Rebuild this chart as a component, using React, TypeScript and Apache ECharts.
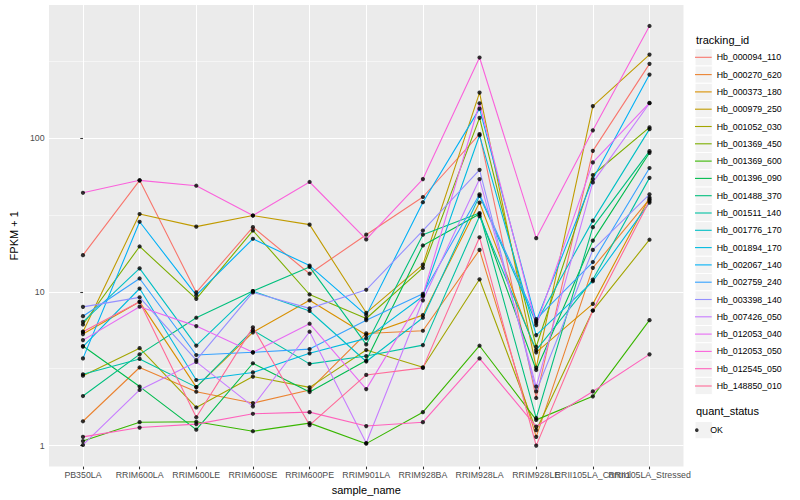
import { useEffect, useRef } from "react";
import * as echarts from "echarts";

const categories = [
  "PB350LA", "RRIM600LA", "RRIM600LE", "RRIM600SE", "RRIM600PE", "RRIM901LA",
  "RRIM928BA", "RRIM928LA", "RRIM928LE", "RRII105LA_Control", "RRII105LA_Stressed",
];

const trackingIds = [
  "Hb_000094_110", "Hb_000270_620", "Hb_000373_180", "Hb_000979_250", "Hb_001052_030",
  "Hb_001369_450", "Hb_001369_600", "Hb_001396_090", "Hb_001488_370", "Hb_001511_140",
  "Hb_001776_170", "Hb_001894_170", "Hb_002067_140", "Hb_002759_240", "Hb_003398_140",
  "Hb_007426_050", "Hb_012053_040", "Hb_012053_050", "Hb_012545_050", "Hb_148850_010",
];

// FPKM + 1 per sample, in category order
const hb000094_110 = [17.3, 53, 9.9, 26.3, 13.1, 23.5, 41.3, 106, 2.04, 82.4, 303];
const hb000270_620 = [1.44, 3.22, 2.24, 1.89, 2.3, 5.36, 5.58, 18.7, 1.14, 14.3, 40];
const hb000373_180 = [5.31, 8.6, 2.4, 5.45, 8.8, 5.23, 7.05, 38, 4.04, 8.34, 41];
const hb000979_250 = [5.5, 32, 26.5, 31.3, 27.3, 7.3, 15, 197, 3.21, 161, 348];
const hb001052_030 = [2.85, 4.3, 1.77, 2.81, 2.39, 4.18, 3.23, 12.05, 1.26, 7.55, 21.8];
const hb001369_450 = [6.13, 19.7, 9.0, 25, 9.6, 6.7, 14.3, 135, 4.39, 57.4, 117];
const hb001369_600 = [1.07, 1.42, 1.43, 1.24, 1.4, 1.03, 1.65, 4.46, 1.47, 2.09, 6.54];
const hb001396_090 = [4.44, 2.42, 1.27, 3.43, 2.23, 3.57, 20, 32, 3.1, 21.5, 80];
const hb001488_370 = [2.1, 3.92, 6.78, 10.1, 14.5, 4.55, 23.5, 32.5, 1.51, 26.3, 82];
const hb001511_140 = [2.91, 3.66, 2.4, 5.63, 3.4, 3.82, 4.5, 31, 4.18, 12, 55];
const hb001776_170 = [6.38, 14.2, 4.47, 10.1, 7.5, 3.52, 6.78, 42, 6.29, 29, 114];
const hb001894_170 = [4.4, 10.5, 2.67, 2.99, 3.98, 4.98, 9.35, 104, 5.23, 11.7, 38];
const hb002067_140 = [3.69, 28.5, 9.5, 22.1, 14.8, 7.05, 38.2, 155, 6.44, 54, 258];
const hb002759_240 = [6.94, 12.2, 3.88, 4.04, 4.24, 6.54, 9.7, 43, 6.64, 15.6, 63.7];
const hb003398_140 = [7.98, 9.2, 3.6, 9.9, 7.8, 10.3, 25, 62, 2.25, 18.7, 43];
const hb007426_050 = [1.01, 2.3, 3.5, 1.8, 5.5, 1.04, 8.8, 54, 2.42, 51.4, 168];
const hb012053_040 = [4.85, 8.0, 5.98, 4.04, 6.2, 2.33, 9.5, 168, 6.07, 69.3, 169];
const hb012053_050 = [44, 53, 48.9, 31.3, 51.7, 21.9, 54, 333, 22.3, 112, 534];
const hb012545_050 = [1.14, 1.31, 1.38, 1.61, 1.65, 1.34, 1.42, 3.69, 1.33, 2.25, 3.92];
const hb148850_010 = [5.5, 8.6, 1.53, 5.87, 1.36, 2.88, 3.2, 22.6, 1.0, 7.55, 39];

const seriesValues = [
  hb000094_110, hb000270_620, hb000373_180, hb000979_250, hb001052_030,
  hb001369_450, hb001369_600, hb001396_090, hb001488_370, hb001511_140,
  hb001776_170, hb001894_170, hb002067_140, hb002759_240, hb003398_140,
  hb007426_050, hb012053_040, hb012053_050, hb012545_050, hb148850_010,
];

const quantStatus = ["OK"];
const yMajorTicks = [1, 10, 100];
const yMinorTicks = [3.1623, 31.623, 316.23];

const FONT = "'Liberation Sans', Arial, Helvetica, sans-serif";

// ggplot2 default hue palette (HCL, c = 100, l = 65)
function hcl(h: number, c = 100, l = 65): string {
  const hr = (h * Math.PI) / 180;
  const U = c * Math.cos(hr);
  const V = c * Math.sin(hr);
  const Xn = 95.047, Yn = 100, Zn = 108.883;
  const den = Xn + 15 * Yn + 3 * Zn;
  const un = (4 * Xn) / den;
  const vn = (9 * Yn) / den;
  const Y = Yn * Math.pow((l + 16) / 116, 3);
  const u = U / (13 * l) + un;
  const v = V / (13 * l) + vn;
  const X = (9 * Y * u) / (4 * v);
  const Z = (Y * (12 - 3 * u - 20 * v)) / (4 * v);
  const x = X / 100, y = Y / 100, z = Z / 100;
  const lin = [
    3.2404542 * x - 1.5371385 * y - 0.4985314 * z,
    -0.969266 * x + 1.8760108 * y + 0.041556 * z,
    0.0556434 * x - 0.2040259 * y + 1.0572252 * z,
  ];
  const hex = lin
    .map((t) => {
      const g = t > 0.0031308 ? 1.055 * Math.pow(t, 1 / 2.4) - 0.055 : 12.92 * t;
      const n = Math.round(Math.min(1, Math.max(0, g)) * 255);
      return n.toString(16).padStart(2, "0");
    })
    .join("");
  return "#" + hex;
}

function huePalette(n: number): string[] {
  const out: string[] = [];
  for (let i = 0; i < n; i++) out.push(hcl(15 + (360 / n) * i));
  return out;
}

// layout
const PANEL_LEFT = 39.5;
const PANEL_TOP = 5;
const PANEL_W = 644;
const PANEL_H = 464;
const LEG_LEFT = 695;
const LEG_TOP = 48.65;
const KEY = 17.3;
const LEG2_TOP = 421.5;

export default function App() {
  const ref = useRef<HTMLDivElement>(null);

  useEffect(() => {
    if (!ref.current) return;
    const chart = echarts.init(ref.current, undefined, { renderer: "svg" });
    const colors = huePalette(trackingIds.length);

    const all = seriesValues.flat();
    const lmin = Math.log10(Math.min(...all));
    const lmax = Math.log10(Math.max(...all));
    const pad = (lmax - lmin) * 0.05;
    const yMin = Math.pow(10, lmin - pad);
    const yMax = Math.pow(10, lmax + pad);

    const idx = categories.map((_, i) => i);
    const evenIdx = idx.filter((i) => i % 2 === 0);
    const oddIdx = idx.filter((i) => i % 2 === 1);

    const lineSeries = trackingIds.map((name, s) => ({
      type: "line",
      name,
      color: colors[s],
      data: seriesValues[s].map((v, i) => [i, v]),
      showSymbol: false,
      symbol: "none",
      lineStyle: { color: colors[s], width: 1.1 },
      itemStyle: { color: colors[s] },
      emphasis: { disabled: true },
      silent: true,
      z: 2,
    }));

    const points: number[][] = [];
    seriesValues.forEach((vals) => vals.forEach((v, i) => points.push([i, v])));

    const keyRects = trackingIds.map((_, i) => ({
      type: "rect",
      shape: { x: LEG_LEFT, y: LEG_TOP + KEY * i, width: KEY, height: KEY },
      style: { fill: "#F2F2F2", stroke: "#FFFFFF", lineWidth: 1 },
      silent: true,
    }));
    keyRects.push({
      type: "rect",
      shape: { x: LEG_LEFT, y: LEG2_TOP, width: KEY, height: KEY },
      style: { fill: "#F2F2F2", stroke: "#FFFFFF", lineWidth: 1 },
      silent: true,
    });

    const axisLabelStyle = { color: "#4D4D4D", fontSize: 8.8, fontFamily: FONT };
    const catFormatter = (v: number) => categories[Math.round(v)] ?? "";

    chart.setOption({
      animation: false,
      backgroundColor: "#FFFFFF",
      textStyle: { fontFamily: FONT },
      title: [
        {
          text: "tracking_id",
          left: 696,
          top: 34,
          padding: 0,
          textStyle: { fontSize: 11, fontWeight: "normal", color: "#000", fontFamily: FONT },
        },
        {
          text: "quant_status",
          left: 696,
          top: 405.5,
          padding: 0,
          textStyle: { fontSize: 11, fontWeight: "normal", color: "#000", fontFamily: FONT },
        },
      ],
      graphic: keyRects,
      grid: {
        left: PANEL_LEFT,
        top: PANEL_TOP,
        width: PANEL_W,
        height: PANEL_H,
        show: true,
        backgroundColor: "#EBEBEB",
        borderWidth: 0,
      },
      xAxis: [
        {
          type: "value",
          position: "bottom",
          min: -0.6,
          max: categories.length - 0.4,
          name: "sample_name",
          nameLocation: "middle",
          nameGap: 14.5,
          nameTextStyle: { fontSize: 11, color: "#000", fontFamily: FONT, verticalAlign: "top" },
          axisLine: { show: false },
          axisTick: {
            show: true,
            customValues: idx,
            length: 2.7,
            lineStyle: { color: "#333333", width: 1.07 },
          },
          axisLabel: {
            ...axisLabelStyle,
            customValues: evenIdx,
            margin: 3.5,
            showMinLabel: true,
            showMaxLabel: true,
            hideOverlap: false,
            formatter: catFormatter,
          },
          splitLine: { show: true, lineStyle: { color: "#FFFFFF", width: 1.07 } },
        },
        {
          type: "value",
          position: "bottom",
          offset: 0,
          min: -0.6,
          max: categories.length - 0.4,
          axisLine: { show: false },
          axisTick: { show: false, customValues: oddIdx },
          axisLabel: {
            ...axisLabelStyle,
            customValues: oddIdx,
            margin: 3.5,
            showMinLabel: true,
            showMaxLabel: true,
            hideOverlap: false,
            formatter: catFormatter,
          },
          splitLine: { show: false },
        },
      ],
      yAxis: [
        {
          type: "log",
          logBase: 10,
          min: yMin,
          max: yMax,
          name: "FPKM + 1",
          nameLocation: "middle",
          nameGap: 21,
          nameTextStyle: { fontSize: 11, color: "#000", fontFamily: FONT },
          axisLine: { show: false },
          axisTick: {
            show: true,
            customValues: yMajorTicks,
            length: 2.7,
            lineStyle: { color: "#333333", width: 1.07 },
          },
          axisLabel: {
            ...axisLabelStyle,
            customValues: yMajorTicks,
            margin: 4.4,
            formatter: (v: number) => String(Math.round(v)),
          },
          splitLine: { show: true, lineStyle: { color: "#FFFFFF", width: 1.07 } },
        },
        {
          type: "log",
          logBase: 10,
          min: yMin,
          max: yMax,
          position: "left",
          axisLine: { show: false },
          axisTick: { show: false, customValues: yMinorTicks },
          axisLabel: { show: false, customValues: yMinorTicks },
          splitLine: { show: true, lineStyle: { color: "#FFFFFF", width: 0.53 } },
        },
      ],
      legend: [
        {
          data: trackingIds,
          orient: "vertical",
          left: LEG_LEFT,
          top: LEG_TOP,
          padding: 0,
          itemGap: 0,
          itemWidth: 16.7,
          itemHeight: 1.1,
          icon: "rect",
          selectedMode: false,
          textStyle: { fontSize: 8.8, lineHeight: KEY, color: "#000", fontFamily: FONT },
        },
        {
          data: quantStatus,
          orient: "vertical",
          left: LEG_LEFT,
          top: LEG2_TOP,
          padding: 0,
          itemGap: 0,
          itemWidth: 16.7,
          itemHeight: 3.6,
          icon: "circle",
          selectedMode: false,
          textStyle: { fontSize: 8.8, lineHeight: KEY, color: "#000", fontFamily: FONT },
        },
      ],
      series: [
        ...lineSeries,
        {
          type: "scatter",
          name: quantStatus[0],
          data: points,
          symbol: "circle",
          symbolSize: 4.2,
          itemStyle: { color: "#000000" },
          emphasis: { disabled: true },
          silent: true,
          z: 3,
        },
      ],
    });

    return () => chart.dispose();
  }, []);

  return (
    <div
      ref={ref}
      style={{ position: "fixed", left: 0, top: 0, width: 800, height: 500 }}
    />
  );
}
